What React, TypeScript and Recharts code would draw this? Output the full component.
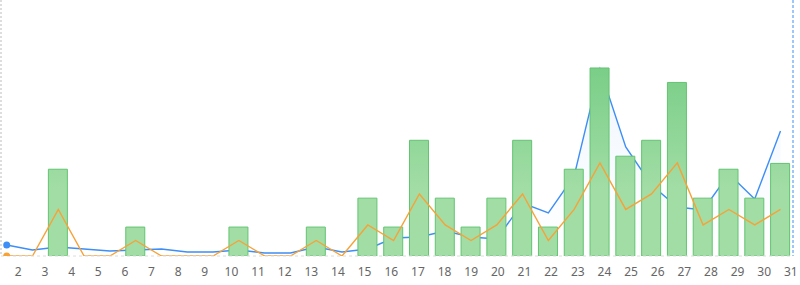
import React from 'react';
import { ComposedChart, Bar, Area, Line, XAxis, YAxis } from 'recharts';

const days = [1, 2, 3, 4, 5, 6, 7, 8, 9, 10, 11, 12, 13, 14, 15, 16, 17, 18, 19, 20, 21, 22, 23, 24, 25, 26, 27, 28, 29, 30, 31];
const barValues = [0, 0, 6, 0, 0, 2, 0, 0, 0, 2, 0, 0, 2, 0, 4, 2, 8, 4, 2, 4, 8, 2, 6, 13, 6.9, 8, 12, 4, 6, 4, 6.4];
const blueValues = [11, 6, 9, 7, 5, 6, 7, 4, 4, 6, 3, 3, 9, 4, 7, 18, 19, 25, 19, 17, 53, 43, 80, 187, 109, 71, 49, 46, 82, 57, 125];
const orangeValues = [0, 0, 3, 0, 0, 1, 0, 0, 0, 1, 0, 0, 1, 0, 2, 1, 4, 2, 1, 2, 4, 1, 3, 6, 3, 4, 6, 2, 3, 2, 3];
const tickLabels = [2, 3, 4, 5, 6, 7, 8, 9, 10, 11, 12, 13, 14, 15, 16, 17, 18, 19, 20, 21, 22, 23, 24, 25, 26, 27, 28, 29, 30, 31];

const data = days.map((d, i) => ({
  day: d,
  bars: barValues[i],
  blue: blueValues[i],
  orange: orangeValues[i],
}));

const BLUE = '#3d8ef7';
const ORANGE = '#f7a237';

const firstDot = (color: string, r: number) => (props: any) => {
  const { cx, cy, index } = props;
  if (index !== 0) return <g key={`d${index}`} />;
  return <circle key={`d${index}`} cx={cx} cy={cy} r={r} fill={color} stroke="none" />;
};

export default function App() {
  return (
    <div style={{ position: 'absolute', left: 0, top: 0, width: 800, height: 285, background: '#fff' }}>
      <ComposedChart width={800} height={285} data={data} margin={{ top: 0, right: 0, bottom: 0, left: 0 }}>
        <defs>
          <linearGradient id="barFill" gradientUnits="userSpaceOnUse" x1="0" y1="60" x2="0" y2="190">
            <stop offset="0%" stopColor="#77cd85" />
            <stop offset="100%" stopColor="#a2dda6" />
          </linearGradient>
          <linearGradient id="blueFill" gradientUnits="userSpaceOnUse" x1="0" y1="60" x2="0" y2="256">
            <stop offset="0%" stopColor="#4a94f8" stopOpacity={0.14} />
            <stop offset="100%" stopColor="#4a94f8" stopOpacity={0} />
          </linearGradient>
        </defs>
        <XAxis
          xAxisId="labels"
          dataKey="day"
          type="number"
          scale="linear"
          domain={[1.3506, 31.08]}
          allowDataOverflow
          ticks={tickLabels}
          interval={0}
          height={29}
          axisLine={{ stroke: '#dcdcdc', strokeDasharray: '3 3' }}
          tickLine={false}
          tickMargin={5}
          tick={{ fontSize: 12, fill: '#666', fontFamily: 'Noto Sans, DejaVu Sans, sans-serif' }}
        />
        <XAxis
          xAxisId="data"
          dataKey="day"
          type="number"
          domain={[1, 31]}
          padding={{ left: 5.7, right: 12.5 }}
          height={0}
          hide
        />
        <YAxis
          yAxisId="bars"
          orientation="left"
          width={1}
          domain={[0, 17.7]}
          allowDataOverflow
          axisLine={{ stroke: '#bbb', strokeDasharray: '2 2' }}
          tick={false}
          tickLine={false}
        />
        <YAxis yAxisId="orange" hide domain={[0, 16.5]} allowDataOverflow />
        <YAxis
          yAxisId="blue"
          orientation="right"
          width={7}
          domain={[0, 256]}
          allowDataOverflow
          ticks={[0]}
          axisLine={{ stroke: BLUE, strokeDasharray: '3 2' }}
          tickLine={{ stroke: BLUE }}
          tick={false}
        />
        <Bar
          xAxisId="data"
          yAxisId="bars"
          dataKey="bars"
          barSize={19}
          fill="url(#barFill)"
          stroke="#62c471"
          strokeWidth={1}
          isAnimationActive={false}
        />
        <Area
          xAxisId="data"
          yAxisId="blue"
          dataKey="blue"
          type="linear"
          stroke={BLUE}
          strokeWidth={1.4}
          fill="url(#blueFill)"
          dot={firstDot(BLUE, 3.5)}
          activeDot={false}
          isAnimationActive={false}
        />
        <Line
          xAxisId="data"
          yAxisId="orange"
          dataKey="orange"
          type="linear"
          stroke={ORANGE}
          strokeWidth={1.4}
          dot={firstDot(ORANGE, 3.5)}
          activeDot={false}
          isAnimationActive={false}
        />
        <Line
          xAxisId="labels"
          yAxisId="orange"
          dataKey="orange"
          stroke="none"
          dot={false}
          activeDot={false}
          legendType="none"
          isAnimationActive={false}
        />
      </ComposedChart>
    </div>
  );
}
